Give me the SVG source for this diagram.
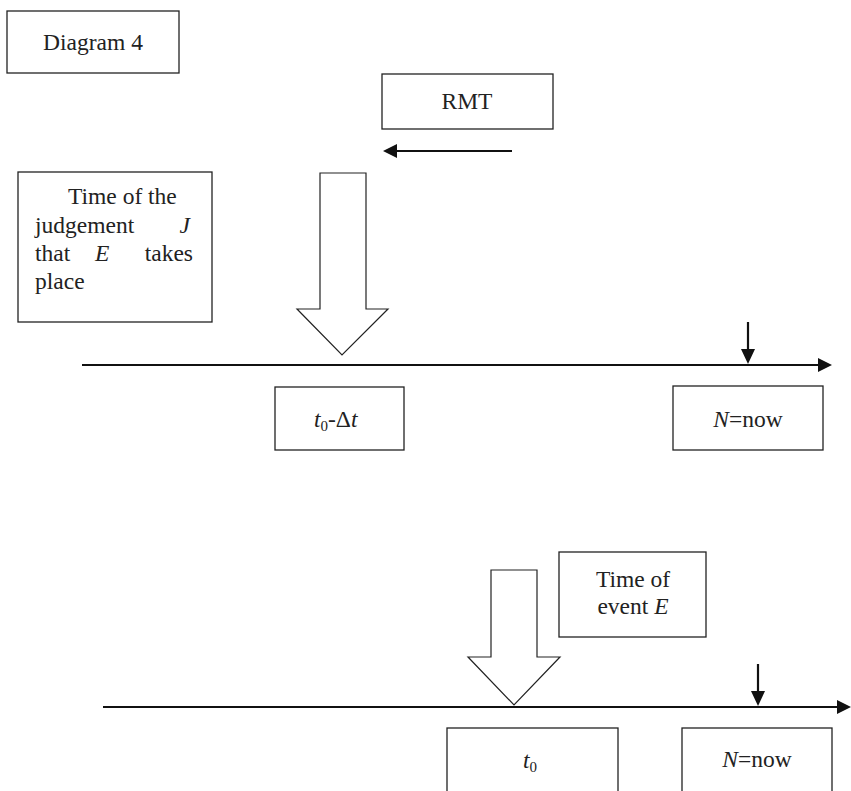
<svg xmlns="http://www.w3.org/2000/svg" width="851" height="791" viewBox="0 0 851 791">
<style>
  .box { fill: #fff; stroke: #222; stroke-width: 1.3; }
  .hollow { fill: #fff; stroke: #222; stroke-width: 1.2; stroke-linejoin: miter; }
  .line { stroke: #111; stroke-width: 2.2; fill: none; }
  .head { fill: #111; stroke: none; }
  text { font-family: "Liberation Serif", "Times New Roman", serif; font-size: 23.5px; fill: #222; }
  .c { text-anchor: middle; }
  .e { text-anchor: end; }
  .i { font-style: italic; }
  .sub { font-size: 15px; }
</style>
<rect width="851" height="791" fill="#fff"/>

<g id="diagram-title">
  <rect class="box" x="7" y="11" width="172" height="62"/>
  <text class="c" x="93" y="50">Diagram 4</text>
</g>

<g id="rmt">
  <rect class="box" x="382" y="74" width="171" height="55"/>
  <text class="c" x="467" y="109">RMT</text>
</g>

<g id="judgement">
  <rect class="box" x="18" y="172" width="194" height="150"/>
  <text x="68" y="204">Time of the</text>
  <text x="35" y="233">judgement</text>
  <text class="e i" x="190" y="233">J</text>
  <text x="35" y="261">that</text>
  <text class="i" x="95" y="261">E</text>
  <text class="e" x="193" y="261">takes</text>
  <text x="35" y="289">place</text>
</g>

<g id="t0-dt">
  <rect class="box" x="275" y="387" width="129" height="63"/>
  <text x="314" y="427"><tspan class="i">t</tspan><tspan class="sub" dy="4">0</tspan><tspan dy="-4">-</tspan><tspan>Δ</tspan><tspan class="i">t</tspan></text>
</g>

<g id="now-1">
  <rect class="box" x="673" y="386" width="150" height="64"/>
  <text class="c" x="748" y="427"><tspan class="i">N</tspan>=now</text>
</g>

<g id="event">
  <rect class="box" x="559" y="552" width="147" height="85"/>
  <text class="c" x="633" y="587">Time of</text>
  <text class="c" x="633" y="614">event <tspan class="i">E</tspan></text>
</g>

<g id="t0">
  <rect class="box" x="447" y="728" width="171" height="80"/>
  <text x="523" y="768"><tspan class="i">t</tspan><tspan class="sub" dy="4">0</tspan></text>
</g>

<g id="now-2">
  <rect class="box" x="682" y="728" width="150" height="80"/>
  <text class="c" x="757" y="767"><tspan class="i">N</tspan>=now</text>
</g>

<g id="connectors">
  <!-- RMT direction arrow -->
  <line class="line" x1="512" y1="151" x2="395" y2="151"/>
  <polygon class="head" points="383,151 397,144 397,158"/>

  <!-- hollow arrow 1 -->
  <polygon class="hollow" points="320,173 366,173 366,309 388,309 342,355 297,309 320,309"/>

  <!-- timeline 1 -->
  <line class="line" x1="82" y1="365" x2="820" y2="365"/>
  <polygon class="head" points="832,365 818,358 818,372"/>
  <line class="line" x1="748" y1="322" x2="748" y2="351"/>
  <polygon class="head" points="748,364 741,349 755,349"/>

  <!-- hollow arrow 2 -->
  <polygon class="hollow" points="491,570 537,570 537,657 560,657 514,705 468,657 491,657"/>

  <!-- timeline 2 -->
  <line class="line" x1="103" y1="707" x2="840" y2="707"/>
  <polygon class="head" points="851,707 837,700 837,714"/>
  <line class="line" x1="758" y1="664" x2="758" y2="693"/>
  <polygon class="head" points="758,706 751,691 765,691"/>
</g>
</svg>
